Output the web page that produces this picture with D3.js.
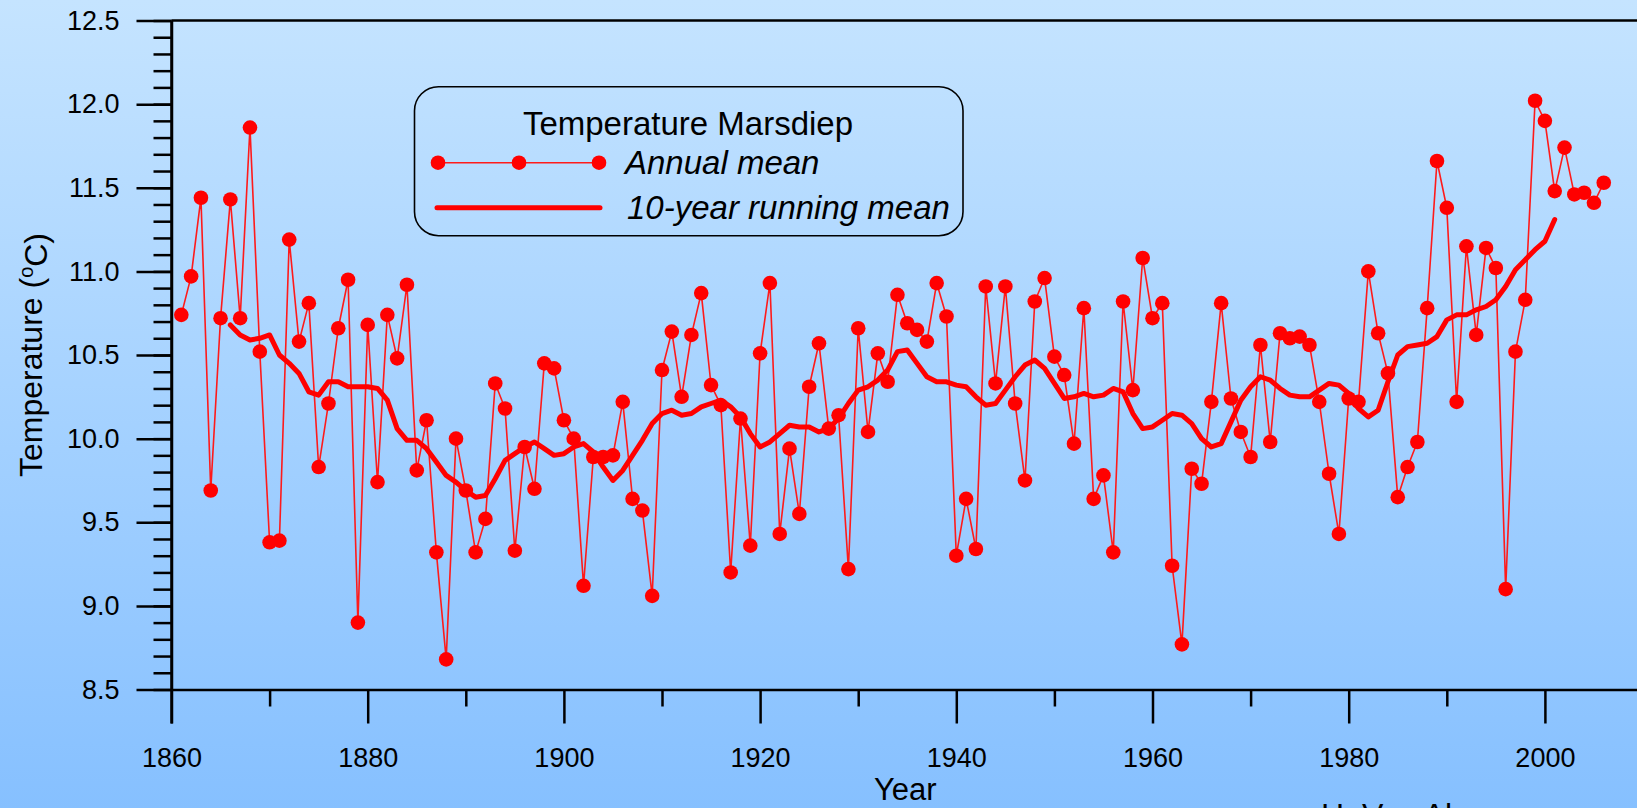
<!DOCTYPE html>
<html>
<head>
<meta charset="utf-8">
<script src="https://cdn.jsdelivr.net/npm/d3@7"></script>
<style>
  html, body { margin: 0; padding: 0; background: #86c0ff; }
  svg { display: block; font-family: "Liberation Sans", Arial, sans-serif; }
</style>
</head>
<body>
<svg id="chart" width="1637" height="808"></svg>
<script>
// Annual mean sea-water temperature at Marsdiep (deg C), 1861-2006
const annualYears = [
  1861,1862,1863,1864,1865,1866,1867,1868,1869,1870,
  1871,1872,1873,1874,1875,1876,1877,1878,1879,1880,
  1881,1882,1883,1884,1885,1886,1887,1888,1889,1890,
  1891,1892,1893,1894,1895,1896,1897,1898,1899,1900,
  1901,1902,1903,1904,1905,1906,1907,1908,1909,1910,
  1911,1912,1913,1914,1915,1916,1917,1918,1919,1920,
  1921,1922,1923,1924,1925,1926,1927,1928,1929,1930,
  1931,1932,1933,1934,1935,1936,1937,1938,1939,1940,
  1941,1942,1943,1944,1945,1946,1947,1948,1949,1950,
  1951,1952,1953,1954,1955,1956,1957,1958,1959,1960,
  1961,1962,1963,1964,1965,1966,1967,1968,1969,1970,
  1971,1972,1973,1974,1975,1976,1977,1978,1979,1980,
  1981,1982,1983,1984,1985,1986,1987,1988,1989,1990,
  1991,1992,1993,1994,1995,1996,1997,1998,1999,2000,
  2001,2002,2003,2004,2005,2006
];
const annualMean = [
  10.74,10.97,11.44, 9.69,10.72,11.43,10.72,11.86,10.52, 9.38,
   9.39,11.19,10.58,10.81, 9.83,10.21,10.66,10.95, 8.90,10.68,
   9.74,10.74,10.48,10.92, 9.81,10.11, 9.32, 8.68,10.00, 9.69,
   9.32, 9.52,10.33,10.18, 9.33, 9.95, 9.70,10.45,10.42,10.11,
  10.00, 9.12, 9.89, 9.89, 9.90,10.22, 9.64, 9.57, 9.06,10.41,
  10.64,10.25,10.62,10.87,10.32,10.20, 9.20,10.12, 9.36,10.51,
  10.93, 9.43, 9.94, 9.55,10.31,10.57,10.06,10.14, 9.22,10.66,
  10.04,10.51,10.34,10.86,10.69,10.65,10.58,10.93,10.73, 9.30,
   9.64, 9.34,10.91,10.33,10.91,10.21, 9.75,10.82,10.96,10.49,
  10.38, 9.97,10.78, 9.64, 9.78, 9.32,10.82,10.29,11.08,10.72,
  10.81, 9.24, 8.77, 9.82, 9.73,10.22,10.81,10.24,10.04, 9.89,
  10.56, 9.98,10.63,10.60,10.61,10.56,10.22, 9.79, 9.43,10.24,
  10.22,11.00,10.63,10.39, 9.65, 9.83, 9.98,10.78,11.66,11.38,
  10.22,11.15,10.62,11.14,11.02, 9.10,10.52,10.83,12.02,11.90,
  11.48,11.74,11.46,11.47,11.41,11.53
];

// 10-year running mean, 1866-2001
const runningYears = [
  1866,1867,1868,1869,1870,
  1871,1872,1873,1874,1875,1876,1877,1878,1879,1880,
  1881,1882,1883,1884,1885,1886,1887,1888,1889,1890,
  1891,1892,1893,1894,1895,1896,1897,1898,1899,1900,
  1901,1902,1903,1904,1905,1906,1907,1908,1909,1910,
  1911,1912,1913,1914,1915,1916,1917,1918,1919,1920,
  1921,1922,1923,1924,1925,1926,1927,1928,1929,1930,
  1931,1932,1933,1934,1935,1936,1937,1938,1939,1940,
  1941,1942,1943,1944,1945,1946,1947,1948,1949,1950,
  1951,1952,1953,1954,1955,1956,1957,1958,1959,1960,
  1961,1962,1963,1964,1965,1966,1967,1968,1969,1970,
  1971,1972,1973,1974,1975,1976,1977,1978,1979,1980,
  1981,1982,1983,1984,1985,1986,1987,1988,1989,1990,
  1991,1992,1993,1994,1995,1996,1997,1998,1999,2000,
  2001
];
const runningMean = [
  10.68,10.62,10.59,10.60,10.62,
  10.50,10.45,10.39,10.28,10.26,10.34,10.34,10.31,10.31,10.31,
  10.30,10.23,10.06, 9.99, 9.99, 9.94, 9.86, 9.78, 9.74, 9.69,
   9.65, 9.66, 9.76, 9.87, 9.91, 9.95, 9.98, 9.94, 9.90, 9.91,
   9.95, 9.97, 9.92, 9.83, 9.75, 9.81, 9.90, 9.99,10.09,10.15,
  10.17,10.14,10.15,10.19,10.21,10.23,10.19,10.13,10.03, 9.95,
   9.98,10.03,10.08,10.07,10.07,10.04,10.06,10.12,10.21,10.29,
  10.31,10.35,10.41,10.52,10.53,10.45,10.37,10.34,10.34,10.32,
  10.31,10.25,10.20,10.21,10.29,10.37,10.44,10.47,10.42,10.33,
  10.24,10.25,10.27,10.25,10.26,10.30,10.28,10.15,10.06,10.07,
  10.11,10.15,10.14,10.09,10.00, 9.95, 9.97,10.10,10.23,10.31,
  10.37,10.35,10.30,10.26,10.25,10.25,10.29,10.33,10.32,10.27,
  10.18,10.13,10.17,10.34,10.50,10.55,10.56,10.57,10.61,10.71,
  10.74,10.74,10.77,10.79,10.83,10.91,11.01,11.07,11.13,11.18,
  11.31
];

// Axis ticks
const xMajorTicks = [1860, 1880, 1900, 1920, 1940, 1960, 1980, 2000];
const xMinorTicks = [1870, 1890, 1910, 1930, 1950, 1970, 1990];
const yMajorTicks = [8.5, 9.0, 9.5, 10.0, 10.5, 11.0, 11.5, 12.0, 12.5];

const svg = d3.select("#chart");
const W = 1637, H = 808;

// Background: vertical gradient over the whole figure
const defs = svg.append("defs");
const grad = defs.append("linearGradient")
  .attr("id", "bg").attr("x1", 0).attr("y1", 0).attr("x2", 0).attr("y2", 1);
grad.append("stop").attr("offset", "0%").attr("stop-color", "#c5e4ff");
grad.append("stop").attr("offset", "100%").attr("stop-color", "#86c0ff");
svg.append("rect").attr("width", W).attr("height", H).attr("fill", "url(#bg)");

// Scales (the x range runs past the right edge, so the frame is cut off there)
const x = d3.scaleLinear().domain([1860, 2010]).range([171.5, 1643]);
const y = d3.scaleLinear().domain([8.5, 12.5]).range([689.5, 20.5]);

const AXIS_W = 2.5;
const tickFont = 27;

function styleAxis(g) {
  g.selectAll("path.domain").attr("stroke", "#000").attr("stroke-width", AXIS_W);
  g.selectAll(".tick line").attr("stroke", "#000").attr("stroke-width", AXIS_W);
  g.selectAll(".tick text")
    .attr("fill", "#000")
    .style("font-family", '"Liberation Sans", Arial, sans-serif')
    .style("font-size", tickFont + "px");
}

// Top frame line
svg.append("line")
  .attr("x1", x(1860)).attr("x2", x(2010))
  .attr("y1", y(12.5)).attr("y2", y(12.5))
  .attr("stroke", "#000").attr("stroke-width", AXIS_W);

// Left axis: minor ticks every 0.1, major ticks with labels every 0.5
svg.append("g")
  .attr("transform", `translate(${x(1860)},0)`)
  .call(d3.axisLeft(y).tickValues(y.ticks(40)).tickSize(18).tickSizeOuter(0).tickFormat(""))
  .call(styleAxis);
svg.append("g")
  .attr("transform", `translate(${x(1860)},0)`)
  .call(d3.axisLeft(y).tickValues(yMajorTicks).tickSize(35).tickSizeOuter(0)
        .tickPadding(17).tickFormat(d3.format(".1f")))
  .call(styleAxis)
  .call(g => g.select("path.domain").remove());

// Bottom axis: minor ticks at decades, major ticks labelled every 20 years
svg.append("g")
  .attr("transform", `translate(0,${y(8.5)})`)
  .call(d3.axisBottom(x).tickValues(xMinorTicks).tickSize(17).tickSizeOuter(0).tickFormat(""))
  .call(styleAxis);
svg.append("g")
  .attr("transform", `translate(0,${y(8.5)})`)
  .call(d3.axisBottom(x).tickValues(xMajorTicks).tickSize(34).tickSizeOuter(0)
        .tickPadding(24).tickFormat(d3.format("d")))
  .call(styleAxis)
  .call(g => g.select("path.domain").remove());

// Left axis line continues down to the end of the 1860 tick
svg.append("line")
  .attr("x1", x(1860)).attr("x2", x(1860))
  .attr("y1", y(12.5)).attr("y2", y(8.5) + 34)
  .attr("stroke", "#000").attr("stroke-width", AXIS_W);

// Axis titles
svg.append("text")
  .attr("x", (x(1860) + x(2010)) / 2 - 2).attr("y", 800)
  .attr("text-anchor", "middle")
  .style("font-size", "31px").attr("fill", "#000")
  .text("Year");

const yTitle = svg.append("text")
  .attr("transform", `translate(42,${(y(8.5) + y(12.5)) / 2}) rotate(-90)`)
  .attr("text-anchor", "middle")
  .style("font-size", "32px").attr("fill", "#000");
yTitle.append("tspan").text("Temperature (");
yTitle.append("tspan").attr("dy", "-0.45em").style("font-size", "20px").text("o");
yTitle.append("tspan").attr("dy", "0.45em").text("C)");

// Annual mean series: thin line with dots
const annual = annualYears.map((yr, i) => ({ year: yr, value: annualMean[i] }));
const running = runningYears.map((yr, i) => ({ year: yr, value: runningMean[i] }));

const line = d3.line().x(d => x(d.year)).y(d => y(d.value));

svg.append("path")
  .datum(annual)
  .attr("d", line)
  .attr("fill", "none")
  .attr("stroke", "#ff1a1a")
  .attr("stroke-width", 1.6)
  .attr("stroke-linejoin", "round");

svg.append("g")
  .selectAll("circle")
  .data(annual)
  .join("circle")
  .attr("cx", d => x(d.year))
  .attr("cy", d => y(d.value))
  .attr("r", 7.3)
  .attr("fill", "#ff0000");

// 10-year running mean: thick line
svg.append("path")
  .datum(running)
  .attr("d", line)
  .attr("fill", "none")
  .attr("stroke", "#ff0000")
  .attr("stroke-width", 5)
  .attr("stroke-linejoin", "round")
  .attr("stroke-linecap", "round");

// Legend
const lg = svg.append("g");
lg.append("rect")
  .attr("x", 414.5).attr("y", 86.7).attr("width", 548.5).attr("height", 149)
  .attr("rx", 24).attr("ry", 24)
  .attr("fill", "none").attr("stroke", "#000").attr("stroke-width", 1.6);
lg.append("text")
  .attr("x", 688).attr("y", 135).attr("text-anchor", "middle")
  .style("font-size", "33px").attr("fill", "#000")
  .text("Temperature Marsdiep");
lg.append("line")
  .attr("x1", 438).attr("x2", 599).attr("y1", 162.7).attr("y2", 162.7)
  .attr("stroke", "#ff1a1a").attr("stroke-width", 1.6);
lg.selectAll("circle.key")
  .data([438, 519, 599])
  .join("circle")
  .attr("class", "key")
  .attr("cx", d => d).attr("cy", 162.7).attr("r", 7.3)
  .attr("fill", "#ff0000");
lg.append("text")
  .attr("x", 625).attr("y", 174.3)
  .style("font-size", "33px").style("font-style", "italic").attr("fill", "#000")
  .text("Annual mean");
lg.append("line")
  .attr("x1", 437).attr("x2", 600).attr("y1", 207.7).attr("y2", 207.7)
  .attr("stroke", "#ff0000").attr("stroke-width", 5).attr("stroke-linecap", "round");
lg.append("text")
  .attr("x", 627).attr("y", 219.3)
  .style("font-size", "33px").style("font-style", "italic").attr("fill", "#000")
  .text("10-year running mean");

// Author credit at the lower right
svg.append("text")
  .attr("x", 1321).attr("y", 826)
  .style("font-size", "32px").attr("fill", "#000")
  .text("H. Van Aken");
</script>
</body>
</html>
